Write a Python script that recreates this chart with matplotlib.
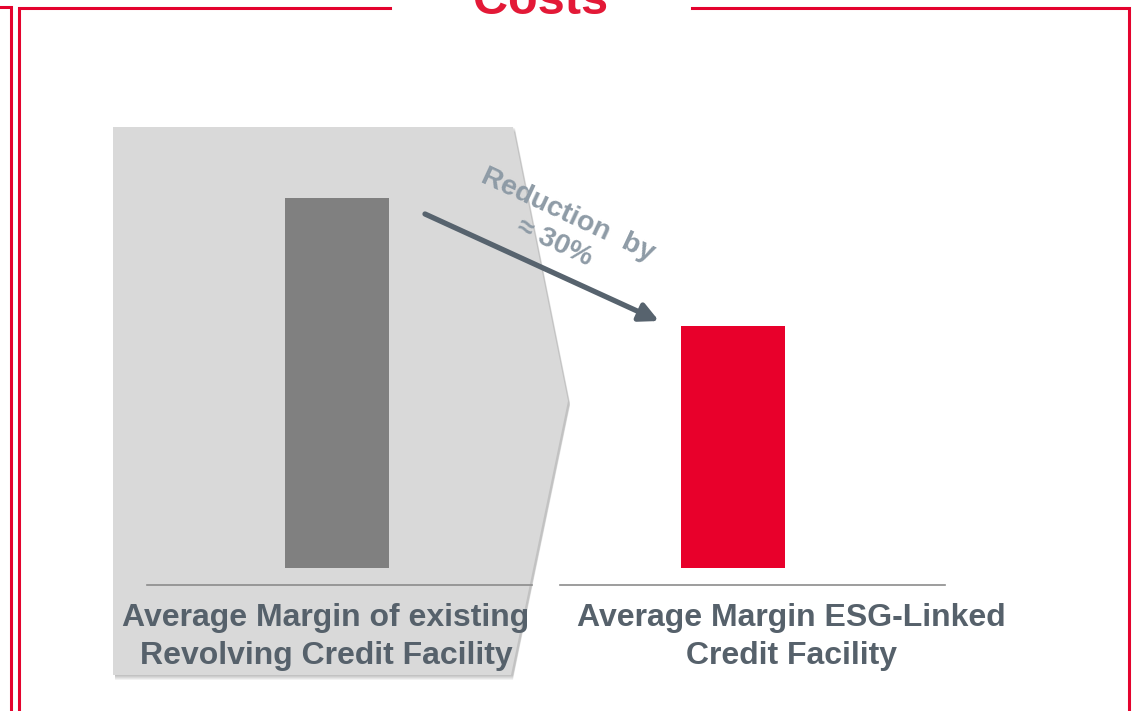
import matplotlib.pyplot as plt
from matplotlib.patches import Polygon

# Daten
categories = ["Average Margin of existing\nRevolving Credit Facility",
              "Average Margin ESG-Linked\nCredit Facility"]
margins = [100, 65.4]
bar_colors = ["#808080", "#E8002B"]
arrow_text = "Reduction  by\n\u2248 30%"
title = "Costs"

W, H = 1135, 711
red = "#E4032E"
label_col = "#56616B"

fig = plt.figure(figsize=(W / 100, H / 100), dpi=100)
plt.rcParams['font.family'] = ['Liberation Sans', 'DejaVu Sans']

# Hintergrund-Achse in Pixelkoordinaten
bg = fig.add_axes([0, 0, 1, 1])
bg.set_xlim(0, W)
bg.set_ylim(H, 0)
bg.axis('off')

# Rahmen
bg.plot([0, 10.5, 10.5], [7, 7, H], color=red, lw=2.2, solid_joinstyle='miter')
bg.plot([18.5, 18.5, 390], [H, 8, 8], color=red, lw=2.2, solid_joinstyle='miter')
bg.plot([692, 1129, 1129], [7.5, 7.5, H], color=red, lw=2.2, solid_joinstyle='miter')
bg.text(541, 14, title, color="#E31937", fontsize=35, fontweight='bold',
        ha='center', va='baseline')

# grauer Pfeil-Hintergrund mit Schatten
pent = [(113, 127), (513, 127), (568, 401), (511, 675), (113, 675)]
for k in range(5, 0, -1):
    sh = [(x + 2, y + k) for x, y in pent]
    bg.add_patch(Polygon(sh, closed=True, facecolor='black', alpha=0.05, lw=0))
bg.add_patch(Polygon(pent, closed=True, facecolor="#D9D9D9", lw=0))

# Basislinien
bg.plot([147, 532], [585, 585], color="#8C8C8C", lw=1.2)
bg.plot([560, 945], [585, 585], color="#8C8C8C", lw=1.2)

# Beschriftungen
bg.text(326, 637, categories[0], ha='center', va='center', color=label_col,
        fontsize=23, fontweight='bold', linespacing=1.32)
bg.text(791, 637, categories[1], ha='center', va='center', color=label_col,
        fontsize=23, fontweight='bold', linespacing=1.32)

# Reduktionspfeil
bg.annotate("", xy=(659, 321), xytext=(425, 214),
            arrowprops=dict(arrowstyle='-|>', color="#57636E", lw=3.8,
                            mutation_scale=28, shrinkA=0, shrinkB=0))
bg.text(561, 229, arrow_text, rotation=-25, rotation_mode='anchor',
        ha='center', va='center', multialignment='center',
        color="#8E9BA6", fontsize=20.5, fontweight='bold', linespacing=1.2)

# Balken
ax = fig.add_axes([139 / W, (H - 568) / H, 792 / W, 370 / H])
ax.bar(range(len(margins)), margins, width=104 / 396, color=bar_colors)
ax.set_xlim(-0.5, 1.5)
ax.set_ylim(0, 100)
ax.axis('off')

fig.savefig("out.png", dpi=100)
